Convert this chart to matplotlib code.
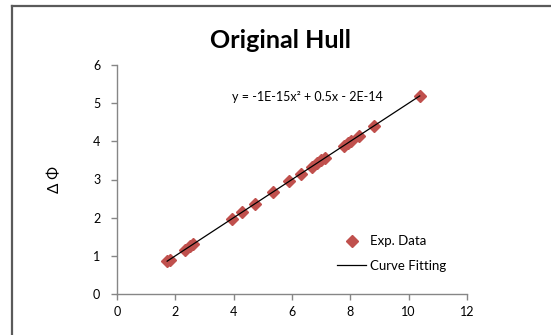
import numpy as np
import matplotlib
matplotlib.use("Agg")
import matplotlib.pyplot as plt
from matplotlib.lines import Line2D

plt.rcParams['font.family'] = ['Lato', 'DejaVu Sans']

# measured points (hull)
x_exp = [1.72, 1.80, 2.33, 2.50, 2.62, 3.95, 4.30, 4.72, 5.35, 5.90, 6.30,
         6.68, 6.85, 7.00, 7.12, 7.78, 7.92, 8.02, 8.30, 8.82, 10.38]
y_exp = [0.86, 0.90, 1.165, 1.25, 1.31, 1.975, 2.15, 2.36, 2.675, 2.95, 3.15,
         3.34, 3.425, 3.50, 3.56, 3.89, 3.96, 4.01, 4.15, 4.41, 5.19]

# trendline coefficients (a*x^2 + b*x + c)
fit_coef = [-1e-15, 0.5, -2e-14]
fit_label = "y = -1E-15x\u00b2 + 0.5x - 2E-14"

x_ticks = [0, 2, 4, 6, 8, 10, 12]
y_ticks = [0, 1, 2, 3, 4, 5, 6]

fig = plt.figure(figsize=(5.51, 3.35), dpi=100)
ax = fig.add_axes([117 / 551, 1 - 294 / 335, 350 / 551, 229 / 335])

xf = np.linspace(min(x_exp), max(x_exp), 50)
yf = np.polyval(fit_coef, xf)
ax.plot(x_exp, y_exp, 'D', color='#C0504D', ms=6, mec='#C0504D',
        label='Exp. Data', zorder=2)
ax.plot(xf, yf, color='black', lw=0.9, label='Curve Fitting', zorder=3)

ax.set_xlim(0, 12)
ax.set_ylim(0, 6)
ax.set_xticks(x_ticks)
ax.set_yticks(y_ticks)
for s in ['top', 'right']:
    ax.spines[s].set_visible(False)
for s in ['left', 'bottom']:
    ax.spines[s].set_color('#868686')
    ax.spines[s].set_linewidth(1.0)
ax.tick_params(direction='out', length=4, width=1, color='#868686',
               labelsize=9)
ax.tick_params(axis='x', pad=5)
ax.tick_params(axis='y', pad=8)

ax.set_ylabel('\u0394 \u03a6', fontsize=11, labelpad=22)
fig.text(280 / 551, 1 - 40 / 335, 'Original Hull', fontsize=18,
         fontweight='bold', ha='center', va='center')

ax.text(3.93, 5.16, fit_label, fontsize=9, va='center', ha='left')

ax.legend(loc='upper left', bbox_to_anchor=(332 / 551, 1 - 230 / 335),
          bbox_transform=fig.transFigure, frameon=False, fontsize=9.5,
          handlelength=2.2, handletextpad=0.3, labelspacing=0.95,
          borderaxespad=0)

# outer chart frame
fig.add_artist(Line2D([12 / 551, 12 / 551], [0, 1 - 6 / 335],
                      transform=fig.transFigure, color='#5a5a5a', lw=1.6))
fig.add_artist(Line2D([12 / 551, 1], [1 - 6 / 335, 1 - 6 / 335],
                      transform=fig.transFigure, color='#5a5a5a', lw=1.6))

fig.savefig('out.png', dpi=100)
